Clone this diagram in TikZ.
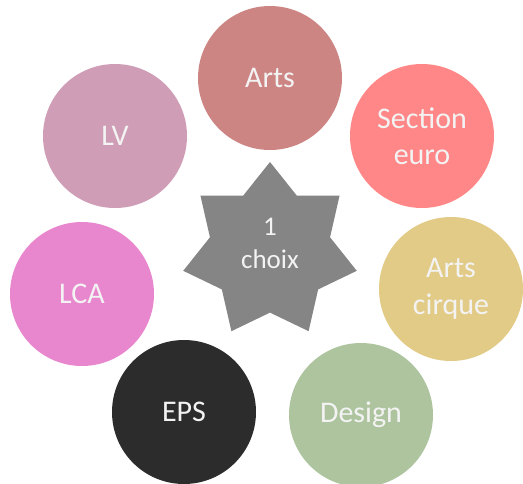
\documentclass[tikz,border=0pt]{standalone}
\usepackage{fontspec}
\setmainfont{Carlito}
\usepackage{tikz}
\usetikzlibrary{shapes.geometric}
\definecolor{artsrose}{RGB}{205,133,132}
\definecolor{salmon}{RGB}{255,135,135}
\definecolor{sand}{RGB}{226,202,135}
\definecolor{sage}{RGB}{173,196,158}
\definecolor{charcoal}{RGB}{44,44,44}
\definecolor{orchid}{RGB}{232,135,206}
\definecolor{mauve}{RGB}{207,157,182}
\definecolor{stargrey}{RGB}{133,133,133}
\definecolor{lighttext}{RGB}{243,243,243}

\begin{document}
\begin{tikzpicture}[x=1pt, y=-1pt,
    option/.style={circle, fill=#1, minimum size=144pt, inner sep=0pt,
        align=center, text=lighttext, font=\fontsize{30}{36.5}\selectfont},
    choice/.style={star, star points=7, star point ratio=1.445, fill=stargrey,
        minimum size=178pt, inner sep=0pt, align=center, text=lighttext,
        text depth=16pt, font=\fontsize{27}{33}\selectfont}]
    \useasboundingbox (0,0) rectangle (523,483);

    % Center star
    \node[choice] (star) at (270,251) {1\\choix};

    % Options around the star
    \foreach \name/\x/\y/\col/\txt in {
        arts/270/78/artsrose/Arts,
        euro/422/136/salmon/{Section\\euro},
        cirque/451/289/sand/{Arts\\cirque},
        design/361/415/sage/Design,
        eps/184/412/charcoal/EPS,
        lca/82/294/orchid/LCA,
        lv/115/136/mauve/LV} {
        \node[option=\col] (\name) at (\x,\y) {\txt};
    }

\end{tikzpicture}
\end{document}
